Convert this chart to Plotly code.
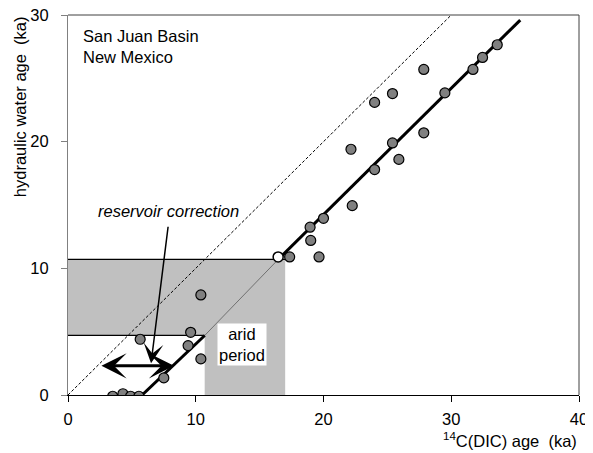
import plotly.graph_objects as go

# 14C(DIC) age (ka) against hydraulic water age (ka), San Juan Basin
c14_age = [3.5, 4.3, 4.9, 5.55, 7.5, 9.4, 10.4, 9.6, 10.4, 5.65, 17.35, 19.65,
           19.0, 18.95, 20.0, 22.25, 24.0, 25.9, 25.4, 22.15, 27.85, 29.5,
           24.0, 25.4, 27.85, 31.7, 32.45, 33.6]
hyd_age = [-0.1, 0.1, -0.1, -0.1, 1.35, 3.9, 2.85, 4.95, 7.9, 4.4, 10.9, 10.9,
           12.2, 13.25, 13.95, 14.95, 17.8, 18.6, 19.9, 19.4, 20.7, 23.85,
           23.1, 23.8, 25.7, 25.7, 26.65, 27.65]
open_c14 = [16.45]
open_hyd = [10.9]

# fitted line, split where it crosses the arid-period band
fit_low_x, fit_low_y = [5.8, 10.7], [0, 4.7]
fit_mid_x, fit_mid_y = [10.7, 16.5], [4.7, 10.75]
fit_high_x, fit_high_y = [16.5, 35.4], [10.75, 29.6]

# 1:1 line
one_x, one_y = [0, 30], [0, 30]

# grey L-shaped region (arid period)
band_x = [0, 17.0, 17.0, 10.7, 10.7, 0, 0]
band_y = [10.7, 10.7, 0, 0, 4.7, 4.7, 10.7]
band_top_x, band_top_y = [0, 17.0], [10.7, 10.7]
band_bot_x, band_bot_y = [0, 10.7], [4.7, 4.7]

# reservoir correction arrows
corr_x = [2.5, 8.3]
corr_y = [2.3, 2.3]
label_arrow_x = [7.85, 6.5]
label_arrow_y = [13.4, 2.5]

FONT = "Liberation Sans, Arial, sans-serif"
FS = 16.5

fig = go.Figure()

fig.add_trace(go.Scatter(x=band_x, y=band_y, fill="toself", fillcolor="#c0c0c0",
                         line=dict(width=0), mode="lines", hoverinfo="skip"))
fig.add_trace(go.Scatter(x=band_top_x, y=band_top_y, mode="lines",
                         line=dict(color="black", width=1.2)))
fig.add_trace(go.Scatter(x=band_bot_x, y=band_bot_y, mode="lines",
                         line=dict(color="black", width=1.2)))
fig.add_trace(go.Scatter(x=one_x, y=one_y, mode="lines",
                         line=dict(color="black", width=1, dash="3px,2px")))
fig.add_trace(go.Scatter(x=fit_mid_x, y=fit_mid_y, mode="lines",
                         line=dict(color="#707070", width=1)))
fig.add_trace(go.Scatter(x=fit_low_x, y=fit_low_y, mode="lines",
                         line=dict(color="black", width=3)))
fig.add_trace(go.Scatter(x=fit_high_x, y=fit_high_y, mode="lines",
                         line=dict(color="black", width=3)))
fig.add_trace(go.Scatter(x=c14_age, y=hyd_age, mode="markers",
                         marker=dict(size=10, color="#808080",
                                     line=dict(color="black", width=1.2))))
fig.add_trace(go.Scatter(x=open_c14, y=open_hyd, mode="markers",
                         marker=dict(size=10, color="white",
                                     line=dict(color="black", width=1.5))))

fig.add_annotation(x=corr_x[1], y=corr_y[1], ax=corr_x[0], ay=corr_y[0],
                   xref="x", yref="y", axref="x", ayref="y", text="",
                   showarrow=True, arrowside="end+start", arrowhead=3,
                   arrowsize=1.4, arrowwidth=3, arrowcolor="black")
fig.add_annotation(x=label_arrow_x[1], y=label_arrow_y[1],
                   ax=label_arrow_x[0], ay=label_arrow_y[0],
                   xref="x", yref="y", axref="x", ayref="y", text="",
                   showarrow=True, arrowhead=3, arrowsize=2.2,
                   arrowwidth=1.5, arrowcolor="black")

fig.add_annotation(x=1.0, y=29.2, xref="x", yref="y", xanchor="left", yanchor="top",
                   align="left", showarrow=False, text="San Juan Basin<br>New Mexico",
                   font=dict(family=FONT, size=FS, color="black"))
fig.add_annotation(x=7.9, y=14.5, xref="x", yref="y", showarrow=False,
                   text="<i>reservoir correction</i>",
                   font=dict(family=FONT, size=FS, color="black"))
fig.add_annotation(x=13.65, y=4.0, xref="x", yref="y", showarrow=False,
                   text="arid<br>period", bgcolor="white", borderpad=1,
                   font=dict(family=FONT, size=FS, color="black"))
fig.add_annotation(x=-0.094, y=0.76, xref="paper", yref="paper", textangle=-90,
                   xanchor="center", yanchor="middle",
                   showarrow=False, text="hydraulic water age\u00a0\u00a0(ka)",
                   font=dict(family=FONT, size=FS, color="black"))
fig.add_annotation(x=1.0, y=-0.118, xref="paper", yref="paper", xanchor="right",
                   yanchor="middle", showarrow=False,
                   text="<sup>14</sup>C(DIC) age\u00a0\u00a0(ka)",
                   font=dict(family=FONT, size=FS, color="black"))

# plot box top and right edges
fig.add_shape(type="line", xref="paper", yref="paper", x0=0, x1=1, y0=1, y1=1,
              line=dict(color="#404040", width=1))
fig.add_shape(type="line", xref="paper", yref="paper", x0=1, x1=1, y0=0, y1=1,
              line=dict(color="#404040", width=1))

fig.update_xaxes(range=[0, 40], tickvals=[0, 10, 20, 30, 40], showgrid=False,
                 zeroline=False, showline=True, linecolor="black", linewidth=1.2,
                 ticks="outside", ticklen=6, tickcolor="black", automargin=False,
                 ticklabelstandoff=3, ticklabeloverflow="allow",
                 tickfont=dict(family=FONT, size=FS, color="black"))
fig.update_yaxes(range=[0, 30], tickvals=[0, 10, 20, 30], showgrid=False,
                 zeroline=False, showline=True, linecolor="#808080", linewidth=1.2,
                 ticks="outside", ticklen=6, tickcolor="#808080", automargin=False,
                 ticklabelstandoff=9, ticklabeloverflow="allow",
                 tickfont=dict(family=FONT, size=FS, color="black"))

# page body adds an 8px offset, so the figure is sized to fit the window
fig.update_layout(width=585, height=445, showlegend=False,
                  margin=dict(l=60, r=14, t=7, b=58, autoexpand=False),
                  plot_bgcolor="white", paper_bgcolor="white",
                  font=dict(family=FONT, size=FS, color="black"))

fig.write_html("out.html")
